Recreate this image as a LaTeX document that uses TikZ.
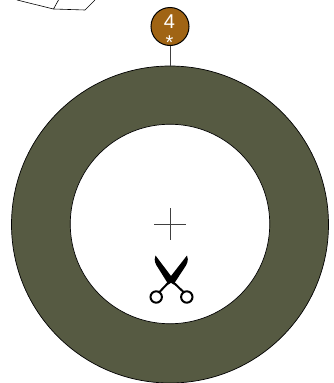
\documentclass[tikz,border=0pt]{standalone}
\usepackage{fontspec}
\setmainfont{Liberation Sans}
\definecolor{ringc}{HTML}{565A42}
\definecolor{badgec}{HTML}{A06414}
\tikzset{
  ringdisc/.style={circle,draw=black,line width=0.7pt,inner sep=0pt,outer sep=0pt},
  badge/.style={circle,draw=black,line width=1pt,fill=badgec,minimum size=38pt,inner sep=0pt,outer sep=0pt},
  thin line/.style={draw=black!75,line width=0.7pt},
  sketch/.style={draw=black,line width=0.6pt},
}
\begin{document}
\begin{tikzpicture}[x=1pt,y=-1pt]
\useasboundingbox (0,0) rectangle (334,383);
\node[ringdisc,fill=ringc,minimum size=317pt] (outer) at (170,224.5) {};
\node[ringdisc,fill=white,minimum size=199.5pt] (inner) at (170,224) {};
\node[badge] (num) at (170,26.5) {};
\node[text=white,font=\fontsize{20}{20}\selectfont,inner sep=0pt] (numtext) at (169.5,22) {4};
\node[text=white,font=\fontsize{20}{20}\selectfont,inner sep=0pt] (star) at (169.5,43) {*};
\draw[thin line] (num.south) -- (outer.north);
% fragment at the top
\draw[sketch] (17,0) -- (53.5,9) -- (85,10) -- (95,0);
\draw[sketch] (53.5,9) -- (58.5,0);
% centre cross
\coordinate (cl) at (154,224); \coordinate (cr) at (186,224);
\coordinate (ct) at (170,208); \coordinate (cb) at (170,240);
\draw[thin line] (cl) -- (cr);
\draw[thin line] (ct) -- (cb);
% scissors
\fill[black] (155.5,255.5) -- (171,276) -- (173.5,281) -- (168.5,284.5)
  -- (158.5,268.5) .. controls (155.5,264) and (153.5,261) .. (155.5,255.5) -- cycle;
\fill[black] (187,255.5) -- (171,276) -- (168.5,281) -- (173.5,284.5)
  -- (184,268.5) .. controls (187,264) and (189,261) .. (187,255.5) -- cycle;
\draw[black,line width=2pt] (156.2,297) circle[radius=5.7pt];
\draw[black,line width=2pt] (186.8,297) circle[radius=5.7pt];
\draw[black,line width=2pt] (159.5,292) -- (169,282);
\draw[black,line width=2pt] (183.5,292) -- (173,282);
\end{tikzpicture}
\end{document}
